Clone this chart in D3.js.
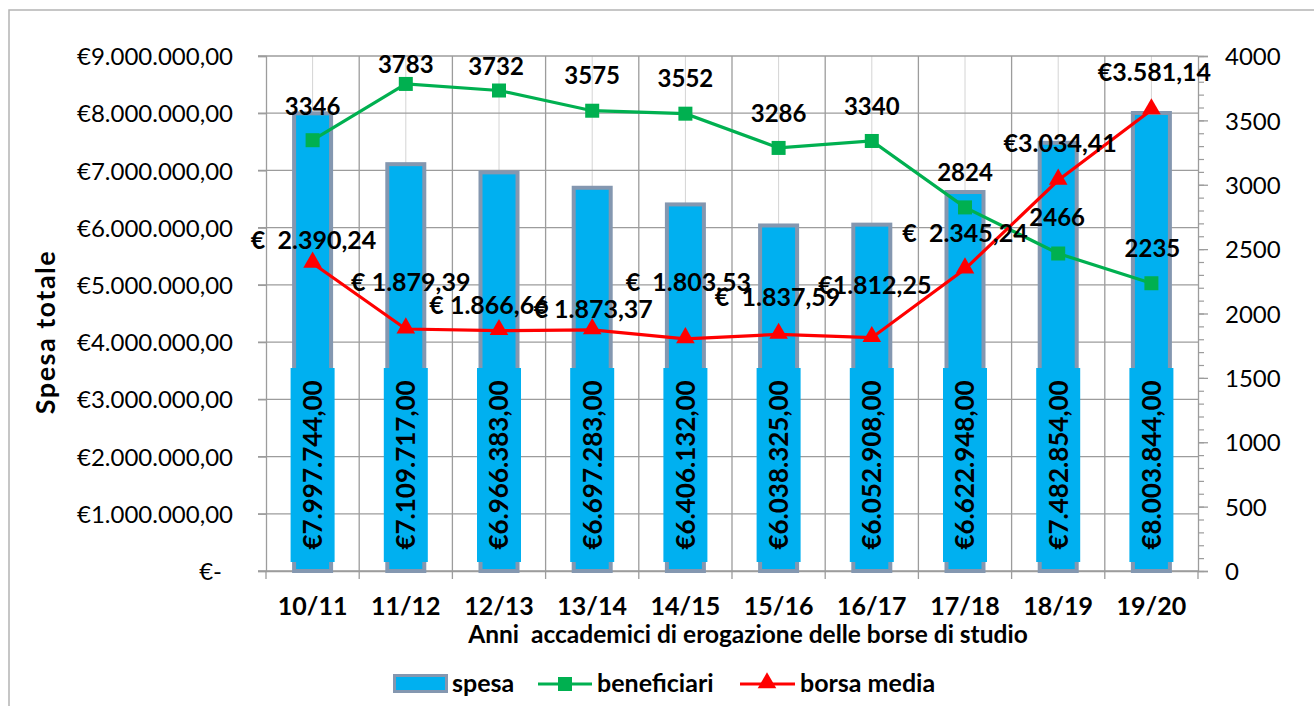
<!DOCTYPE html>
<html>
<head>
<meta charset="utf-8">
<script src="https://cdn.jsdelivr.net/npm/d3@7"></script>
<style>
  body { margin: 0; background: #fff; }
  svg { display: block; font-family: Lato, "Open Sans", sans-serif; }
  text { white-space: pre; }
</style>
</head>
<body>
<svg width="1314" height="706"></svg>
<script>
// data
const years = ["10/11", "11/12", "12/13", "13/14", "14/15", "15/16", "16/17", "17/18", "18/19", "19/20"];
const spesa = [7997744, 7109717, 6966383, 6697283, 6406132, 6038325, 6052908, 6622948, 7482854, 8003844];
const beneficiari = [3346, 3783, 3732, 3575, 3552, 3286, 3340, 2824, 2466, 2235];
const borsaMedia = [2390.24, 1879.39, 1866.66, 1873.37, 1803.53, 1837.59, 1812.25, 2345.24, 3034.41, 3581.14];
const leftTicks = [0, 1e6, 2e6, 3e6, 4e6, 5e6, 6e6, 7e6, 8e6, 9e6];
const rightTicks = [0, 500, 1000, 1500, 2000, 2500, 3000, 3500, 4000];

// label placement (hand placed in the original)
const benOffset = [[0, -34], [0, -20], [-3, -24], [0, -35], [0, -35], [0, -35], [0, -35], [0, -35], [-1, -36], [1, -35]];
const borsaOffset = [[1, -23], [5, -47], [-10, -26], [1, -21], [3, -57], [-1, -37], [3, -53], [0, -36], [2, -37], [3, -38]];
const borsaPrefix = ["€  ", "€ ", "€ ", "€ ", "€  ", "€  ", "€", "€  ", "€", "€"];

const it = d3.formatLocale({ decimal: ",", thousands: ".", grouping: [3], currency: ["€", ""] });
const fmt2 = it.format(",.2f");
const fmtEur = it.format("$,.2f");

const svg = d3.select("svg");
const pL = 266, pR = 1198, pT = 56, pB = 571;
const gridColor = "#9c9c9c";

const x = d3.scaleBand().domain(years).range([pL, pR]);
const yL = d3.scaleLinear().domain([0, 9e6]).range([pB, pT]);
const yR = d3.scaleLinear().domain([0, 4000]).range([pB, pT]);
const cx = (d) => x(d) + x.bandwidth() / 2;

// outer frame
svg.append("rect")
  .attr("x", 9).attr("y", 10).attr("width", 1330).attr("height", 720)
  .attr("fill", "none").attr("stroke", "#b4b4b4").attr("stroke-width", 1.5);

// grid
const grid = svg.append("g");
grid.selectAll(".vc").data(years).enter().append("line")
  .attr("x1", (d) => cx(d)).attr("x2", (d) => cx(d))
  .attr("y1", pT).attr("y2", pB)
  .attr("stroke", "#d4d4d4").attr("stroke-width", 1);
grid.selectAll(".vb").data(years.slice(1)).enter().append("line")
  .attr("x1", (d) => x(d)).attr("x2", (d) => x(d))
  .attr("y1", pT).attr("y2", pB + 8)
  .attr("stroke", gridColor).attr("stroke-width", 1.3);
grid.selectAll(".h").data(leftTicks).enter().append("line")
  .attr("x1", pL - 8).attr("x2", pR)
  .attr("y1", (d) => yL(d)).attr("y2", (d) => yL(d))
  .attr("stroke", gridColor).attr("stroke-width", 1.3);

// left axis
const axL = svg.append("g")
  .attr("transform", `translate(${pL},0)`)
  .call(d3.axisLeft(yL).tickValues(leftTicks).tickSize(8)
    .tickFormat((d) => d === 0 ? "€-" : fmtEur(d)));
axL.select(".domain").attr("stroke", gridColor).attr("stroke-width", 1.3);
axL.selectAll(".tick line").attr("stroke", gridColor).attr("stroke-width", 1.3);
axL.selectAll(".tick text").attr("font-size", 24).attr("fill", "#000")
  .attr("font-family", "Lato")
  .attr("x", (d) => d === 0 ? -44 : -33)
  .attr("dy", "0.36em");

// right axis
const axR = svg.append("g")
  .attr("transform", `translate(${pR},0)`)
  .call(d3.axisRight(yR).tickValues(rightTicks).tickSize(10).tickFormat(d3.format("d")));
axR.select(".domain").attr("stroke", gridColor).attr("stroke-width", 1.3);
axR.selectAll(".tick line").attr("stroke", gridColor).attr("stroke-width", 1.3);
axR.selectAll(".tick text").attr("font-size", 24).attr("fill", "#000")
  .attr("font-family", "Lato").attr("text-anchor", "start").attr("x", 27).attr("dy", "0.36em");
const minor = svg.append("g")
  .attr("transform", `translate(${pR},0)`)
  .call(d3.axisRight(yR).tickValues(d3.range(0, 4001, 100)).tickSize(6).tickFormat(""));
minor.select(".domain").remove();
minor.selectAll(".tick line").attr("stroke", gridColor).attr("stroke-width", 1.2);

// bottom axis
const axB = svg.append("g")
  .attr("transform", `translate(0,${pB})`)
  .call(d3.axisBottom(x).tickSize(0).tickPadding(44));
axB.select(".domain").attr("stroke", gridColor).attr("stroke-width", 1.3);
axB.selectAll(".tick text").attr("font-size", 25).attr("font-weight", "bold")
  .attr("font-family", "Lato").attr("fill", "#000").attr("dy", 0);
[pL, pR].forEach((v) => {
  svg.append("line").attr("x1", v).attr("x2", v).attr("y1", pB).attr("y2", pB + 8)
    .attr("stroke", gridColor).attr("stroke-width", 1.3);
});

// bars
svg.append("g").selectAll("rect").data(years).enter().append("rect")
  .attr("x", (d) => cx(d) - 18.5)
  .attr("width", 37)
  .attr("y", (d, i) => yL(spesa[i]))
  .attr("height", (d, i) => pB - yL(spesa[i]))
  .attr("fill", "#00b0f0")
  .attr("stroke", "#8497b0").attr("stroke-width", 4);

// lines
const line = d3.line().x((d, i) => cx(years[i])).y((d) => yR(d));
svg.append("path").datum(beneficiari).attr("d", line)
  .attr("fill", "none").attr("stroke", "#00b050").attr("stroke-width", 3.2);
svg.append("g").selectAll("rect").data(beneficiari).enter().append("rect")
  .attr("x", (d, i) => cx(years[i]) - 7).attr("y", (d) => yR(d) - 7)
  .attr("width", 14).attr("height", 14).attr("fill", "#00b050");

svg.append("path").datum(borsaMedia).attr("d", line)
  .attr("fill", "none").attr("stroke", "#ff0000").attr("stroke-width", 3.2);
const tri = d3.symbol().type(d3.symbolTriangle).size(150);
svg.append("g").selectAll("path").data(borsaMedia).enter().append("path")
  .attr("d", tri)
  .attr("transform", (d, i) => `translate(${cx(years[i])},${yR(d) - 1})`)
  .attr("fill", "#ff0000");

// bar value labels (inside base, filled box)
const barLab = svg.append("g").selectAll("g").data(years).enter().append("g")
  .attr("transform", (d) => `translate(${cx(d)},465)`);
barLab.append("rect")
  .attr("x", -22).attr("y", -97).attr("width", 44).attr("height", 194)
  .attr("fill", "#00b0f0");
barLab.append("text")
  .attr("transform", "rotate(-90)")
  .attr("text-anchor", "middle").attr("dy", "0.36em")
  .attr("font-size", 26).attr("font-weight", "bold").attr("fill", "#000")
  .text((d, i) => fmtEur(spesa[i]));

// beneficiari labels
svg.append("g").selectAll("text").data(beneficiari).enter().append("text")
  .attr("x", (d, i) => cx(years[i]) + benOffset[i][0])
  .attr("y", (d, i) => yR(d) + benOffset[i][1])
  .attr("dy", "0.36em").attr("text-anchor", "middle")
  .attr("font-size", 24).attr("font-weight", "bold").attr("fill", "#000")
  .text((d) => d);

// borsa media labels
svg.append("g").selectAll("text").data(borsaMedia).enter().append("text")
  .attr("x", (d, i) => cx(years[i]) + borsaOffset[i][0])
  .attr("y", (d, i) => yR(d) + borsaOffset[i][1])
  .attr("dy", "0.36em").attr("text-anchor", "middle")
  .attr("font-size", 25).attr("font-weight", "bold").attr("fill", "#000")
  .text((d, i) => borsaPrefix[i] + fmt2(d));

// axis titles
svg.append("text")
  .attr("x", 748).attr("y", 643).attr("text-anchor", "middle")
  .attr("font-size", 24.5).attr("font-weight", "bold")
  .text("Anni  accademici di erogazione delle borse di studio");
svg.append("text")
  .attr("transform", "translate(55,332) rotate(-90)").attr("text-anchor", "middle")
  .attr("font-size", 27).attr("font-weight", "bold").attr("letter-spacing", 1.5)
  .text("Spesa totale");

// legend
const lg = svg.append("g");
lg.append("rect").attr("x", 394.5).attr("y", 675.5).attr("width", 52).attr("height", 16)
  .attr("fill", "#00b0f0").attr("stroke", "#8497b0").attr("stroke-width", 3);
lg.append("text").attr("x", 452).attr("y", 692).attr("font-size", 25).attr("font-weight", "bold").text("spesa");
lg.append("line").attr("x1", 538).attr("x2", 592).attr("y1", 684).attr("y2", 684)
  .attr("stroke", "#00b050").attr("stroke-width", 3.2);
lg.append("rect").attr("x", 558).attr("y", 677).attr("width", 14).attr("height", 14).attr("fill", "#00b050");
lg.append("text").attr("x", 597).attr("y", 692).attr("font-size", 25).attr("font-weight", "bold").text("beneficiari");
lg.append("line").attr("x1", 740).attr("x2", 795).attr("y1", 684).attr("y2", 684)
  .attr("stroke", "#ff0000").attr("stroke-width", 3.2);
lg.append("path").attr("d", tri).attr("transform", "translate(767,683)").attr("fill", "#ff0000");
lg.append("text").attr("x", 800).attr("y", 692).attr("font-size", 25).attr("font-weight", "bold").text("borsa media");
</script>
</body>
</html>
